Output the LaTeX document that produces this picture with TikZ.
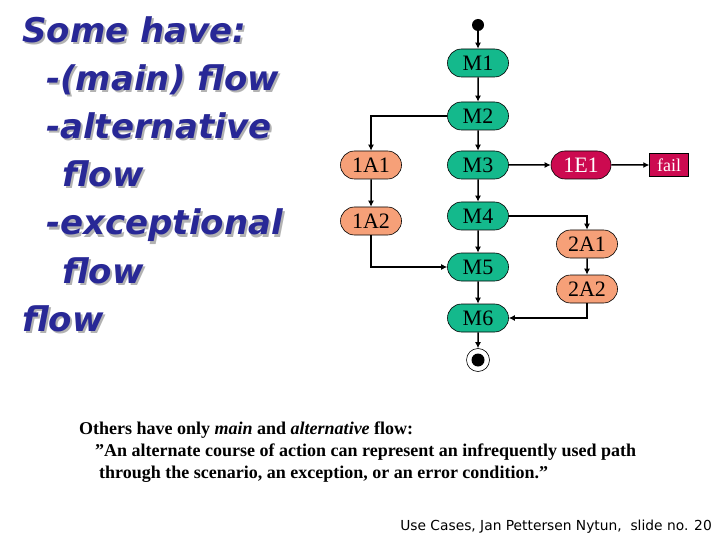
\documentclass[tikz,border=0pt]{standalone}
\usepackage{fontspec}
\setmainfont{Liberation Serif}
\newfontfamily\comic{DejaVu Sans}
\newfontfamily\foot{DejaVu Sans}
\usetikzlibrary{arrows.meta,shapes.misc}
\definecolor{mgreen}{RGB}{20,185,140}
\definecolor{aorange}{RGB}{246,160,120}
\definecolor{ecrim}{RGB}{204,10,80}
\definecolor{tblue}{RGB}{40,40,150}
\tikzset{
  flow/.style={rounded rectangle,draw=black,line width=0.6pt,minimum width=63pt,minimum height=28pt,inner sep=1pt,font=\fontsize{22}{22}\selectfont},
  mainst/.style={flow,fill=mgreen},
  altst/.style={flow,fill=aorange},
  excst/.style={flow,fill=ecrim,text=white,minimum width=62pt},
  failst/.style={draw=black,fill=ecrim,text=white,minimum width=39pt,minimum height=23pt,inner sep=1pt,font=\fontsize{18}{18}\selectfont},
  arr/.style={-{Latex[length=6pt,width=6pt]},line width=1.5pt},
  lt/.style={anchor=base west,font=\comic\bfseries\itshape\fontsize{34}{34}\selectfont,text=tblue,inner sep=0pt},
  sh/.style={anchor=base west,font=\comic\bfseries\itshape\fontsize{34}{34}\selectfont,text=black!30,inner sep=0pt},
  bt/.style={anchor=base west,inner sep=0pt,font=\bfseries\fontsize{18}{18}\selectfont}
}
\begin{document}
\begin{tikzpicture}[x=1pt,y=-1pt]
\useasboundingbox (0,0) rectangle (720,540);
\fill[white] (0,0) rectangle (720,540);
% left text
\foreach \t/\x/\y [count=\i] in {Some have:/22/43,-(main) flow/46/91,-alternative/46/139,flow/62/187,-exceptional/46/235,flow/62/283,flow/22/331}{
  \node[sh] (s\i) at (\x+2,\y+2) {\t};
  \node[lt] (l\i) at (\x,\y) {\t};
}
% diagram
\fill (478,25) circle (6);
\coordinate (start) at (478,25);
\node[mainst] (m1) at (478,63) {M1};
\node[mainst] (m2) at (478,116) {M2};
\node[mainst] (m3) at (478,165) {M3};
\node[mainst] (m4) at (478,216) {M4};
\node[mainst] (m5) at (478,267) {M5};
\node[mainst] (m6) at (478,318) {M6};
\node[altst] (a1) at (371,165) {1A1};
\node[altst] (a2) at (371,221) {1A2};
\node[excst] (e1) at (581,165) {1E1};
\node[failst] (fail) at (669,165) {fail};
\node[altst] (b1) at (587,244) {2A1};
\node[altst] (b2) at (587,289) {2A2};
\node[circle,draw,line width=0.6pt,minimum size=23pt,inner sep=0pt] (end) at (478,360) {};
\fill (end.center) circle (6.5);
\draw[arr] (start) -- (m1);
\draw[arr] (m1) -- (m2);
\draw[arr] (m2) -- (m3);
\draw[arr] (m3) -- (m4);
\draw[arr] (m4) -- (m5);
\draw[arr] (m5) -- (m6);
\draw[arr] (m6) -- (end);
\draw[arr] (m2.west) -| (a1.north);
\draw[arr] (a1) -- (a2);
\draw[arr] (a2.south) |- (m5.west);
\draw[arr] (m3) -- (e1);
\draw[arr] (e1) -- (fail);
\draw[arr] (m4.east) -| (b1.north);
\draw[arr] (b1) -- (b2);
\draw[arr] (b2.south) |- (m6.east);
% bottom text
\node[bt] (t1) at (79,434) {Others have only \textit{main} and \textit{alternative} flow:};
\node[bt] (t2) at (95,456) {”An alternate course of action can represent an infrequently used path};
\node[bt] (t3) at (99,478) {through the scenario, an exception, or an error condition.”};
\node[anchor=base east,inner sep=0pt,font=\foot\fontsize{13.8}{13.8}\selectfont] (ft) at (712,530) {Use Cases, Jan Pettersen Nytun,\ \ slide no. 20};
\end{tikzpicture}
\end{document}
